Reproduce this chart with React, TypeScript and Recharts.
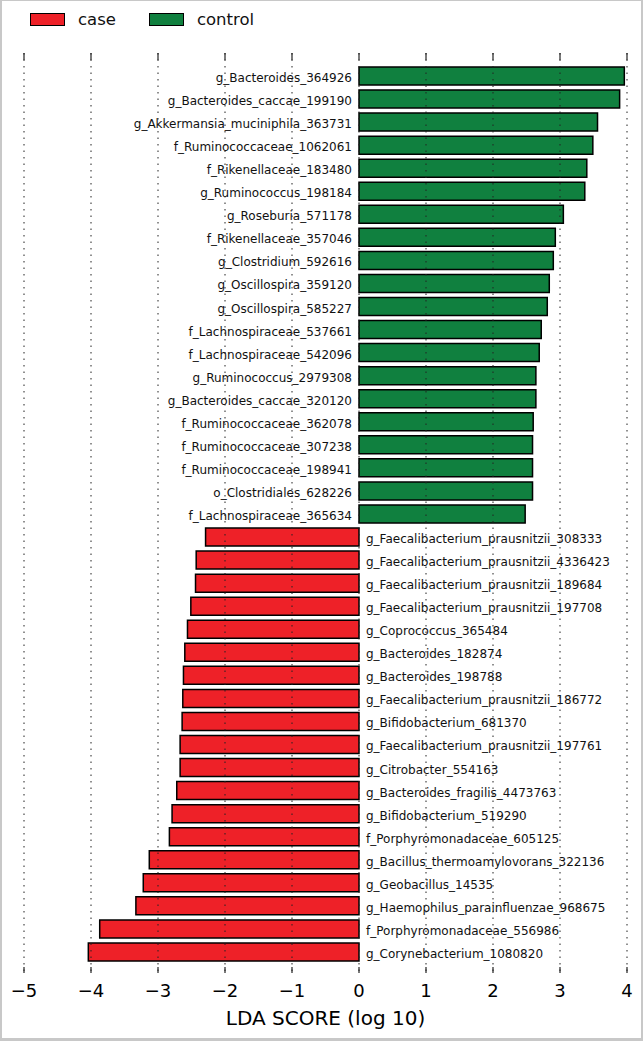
import React from 'react';
import { BarChart, Bar, XAxis, YAxis, LabelList, Legend } from 'recharts';

const controlNames = [
  'g_Bacteroides_364926',
  'g_Bacteroides_caccae_199190',
  'g_Akkermansia_muciniphila_363731',
  'f_Ruminococcaceae_1062061',
  'f_Rikenellaceae_183480',
  'g_Ruminococcus_198184',
  'g_Roseburia_571178',
  'f_Rikenellaceae_357046',
  'g_Clostridium_592616',
  'g_Oscillospira_359120',
  'g_Oscillospira_585227',
  'f_Lachnospiraceae_537661',
  'f_Lachnospiraceae_542096',
  'g_Ruminococcus_2979308',
  'g_Bacteroides_caccae_320120',
  'f_Ruminococcaceae_362078',
  'f_Ruminococcaceae_307238',
  'f_Ruminococcaceae_198941',
  'o_Clostridiales_628226',
  'f_Lachnospiraceae_365634',
];
const controlValues = [
  3.96, 3.89, 3.56, 3.49, 3.4, 3.37, 3.05, 2.93, 2.9, 2.84,
  2.81, 2.72, 2.69, 2.64, 2.64, 2.6, 2.59, 2.59, 2.59, 2.48,
];

const caseNames = [
  'g_Faecalibacterium_prausnitzii_308333',
  'g_Faecalibacterium_prausnitzii_4336423',
  'g_Faecalibacterium_prausnitzii_189684',
  'g_Faecalibacterium_prausnitzii_197708',
  'g_Coprococcus_365484',
  'g_Bacteroides_182874',
  'g_Bacteroides_198788',
  'g_Faecalibacterium_prausnitzii_186772',
  'g_Bifidobacterium_681370',
  'g_Faecalibacterium_prausnitzii_197761',
  'g_Citrobacter_554163',
  'g_Bacteroides_fragilis_4473763',
  'g_Bifidobacterium_519290',
  'f_Porphyromonadaceae_605125',
  'g_Bacillus_thermoamylovorans_322136',
  'g_Geobacillus_14535',
  'g_Haemophilus_parainfluenzae_968675',
  'f_Porphyromonadaceae_556986',
  'g_Corynebacterium_1080820',
];
const caseValues = [
  -2.29, -2.43, -2.44, -2.51, -2.56, -2.6, -2.62, -2.63, -2.64, -2.67,
  -2.67, -2.72, -2.79, -2.83, -3.13, -3.22, -3.33, -3.87, -4.04,
];

const xTicks = [-5, -4, -3, -2, -1, 0, 1, 2, 3, 4];
const xDomain = [-5, 4];
const axisTitle = 'LDA SCORE (log 10)';
const caseColor = '#ee2128';
const controlColor = '#10803f';

const rows = [
  ...controlNames.map((name, i) => ({ name, control: controlValues[i], case: null as number | null })),
  ...caseNames.map((name, i) => ({ name, control: null as number | null, case: caseValues[i] })),
];

const W = 643;
const H = 1041;
const MARGIN = { top: 53, right: 16, bottom: 11, left: 24 };
const BOTTOM_AXIS_H = 57;
const PLOT_H = H - MARGIN.top - MARGIN.bottom - BOTTOM_AXIS_H;

const FONT = '"DejaVu Sans", sans-serif';
const fmt = (v: number) => String(v).replace('-', '\u2212');

// bottom tick: dotted grid line through the plot, inward tick marks at top and bottom, and the label
const BottomTick = (props: any) => {
  const { x, y, payload } = props;
  const top = y - PLOT_H;
  return (
    <g>
      <line x1={x} x2={x} y1={top} y2={y} stroke="#222" strokeWidth={1} strokeDasharray="1.5 5" />
      <line x1={x} x2={x} y1={top} y2={top + 7} stroke="#222" strokeWidth={1.2} />
      <line x1={x} x2={x} y1={y - 6} y2={y} stroke="#222" strokeWidth={1.2} />
      <text x={x} y={y + 24} textAnchor="middle" fontSize={18} fontFamily={FONT} fill="#000">
        {fmt(payload.value)}
      </text>
    </g>
  );
};

const makeLabel = (side: 'left' | 'right', names: string[]) => (props: any) => {
  const { value } = props;
  if (!names.includes(value)) return null;
  const vb = props.viewBox || {};
  const x = Number(props.x ?? vb.x);
  const y = Number(props.y ?? vb.y);
  const w = Number(props.width ?? vb.width);
  const h = Number(props.height ?? vb.height);
  const lo = Math.min(x, x + w);
  const hi = Math.max(x, x + w);
  const cy = Math.min(y, y + h) + Math.abs(h) / 2;
  return (
    <text
      x={side === 'left' ? lo - 7 : hi + 7}
      y={cy + 6}
      textAnchor={side === 'left' ? 'end' : 'start'}
      fontSize={12}
      fontFamily={FONT}
      fill="#111"
    >
      {value}
    </text>
  );
};

const LegendContent = (props: any) => {
  const payload = props.payload || [];
  return (
    <div style={{ display: 'flex', alignItems: 'center', paddingLeft: 30, paddingTop: 11, fontFamily: FONT }}>
      {payload.map((e: any) => (
        <div key={e.value} style={{ display: 'flex', alignItems: 'center', marginRight: 33 }}>
          <span
            style={{
              display: 'inline-block',
              width: 33,
              height: 11,
              background: e.color,
              border: '1.5px solid #000',
            }}
          />
          <span style={{ marginLeft: 13, fontSize: 16.5, color: '#111', lineHeight: '16px', position: 'relative', top: 1 }}>
            {e.value}
          </span>
        </div>
      ))}
    </div>
  );
};

export default function App() {
  return (
    <div style={{ position: 'absolute', left: 0, top: 0, width: W, height: H, background: '#fff' }}>
      <BarChart
        width={W}
        height={H}
        data={rows}
        layout="vertical"
        stackOffset="sign"
        barSize={18}
        margin={MARGIN}
      >
        <YAxis type="category" dataKey="name" hide padding={{ top: 11, bottom: 10 }} />
        <Bar dataKey="case" name="case" stackId="s" fill={caseColor} stroke="#000" strokeWidth={1.5} isAnimationActive={false}>
          <LabelList dataKey="name" content={makeLabel('right', caseNames)} />
        </Bar>
        <Bar dataKey="control" name="control" stackId="s" fill={controlColor} stroke="#000" strokeWidth={1.5} isAnimationActive={false}>
          <LabelList dataKey="name" content={makeLabel('left', controlNames)} />
        </Bar>
        <XAxis
          type="number"
          domain={xDomain}
          ticks={xTicks}
          interval={0}
          height={BOTTOM_AXIS_H}
          axisLine={false}
          tickLine={false}
          tickSize={0}
          tickMargin={0}
          allowDataOverflow
          tick={<BottomTick />}
          label={{ value: axisTitle, position: 'insideBottom', offset: 5, fontSize: 20, fill: '#000', fontFamily: FONT }}
        />
        <Legend
          layout="horizontal"
          verticalAlign="middle"
          align="center"
          wrapperStyle={{ top: 0, left: 0, width: 320, height: 40 }}
          content={<LegendContent />}
        />
      </BarChart>
      <div
        style={{
          position: 'absolute',
          left: 0,
          top: 0,
          width: W,
          height: H,
          boxSizing: 'border-box',
          borderTop: '1px solid #c8c8c8',
          borderLeft: '2px solid #c8c8c8',
          borderRight: '2px solid #c8c8c8',
          borderBottom: '3px solid #c8c8c8',
          pointerEvents: 'none',
        }}
      />
    </div>
  );
}
